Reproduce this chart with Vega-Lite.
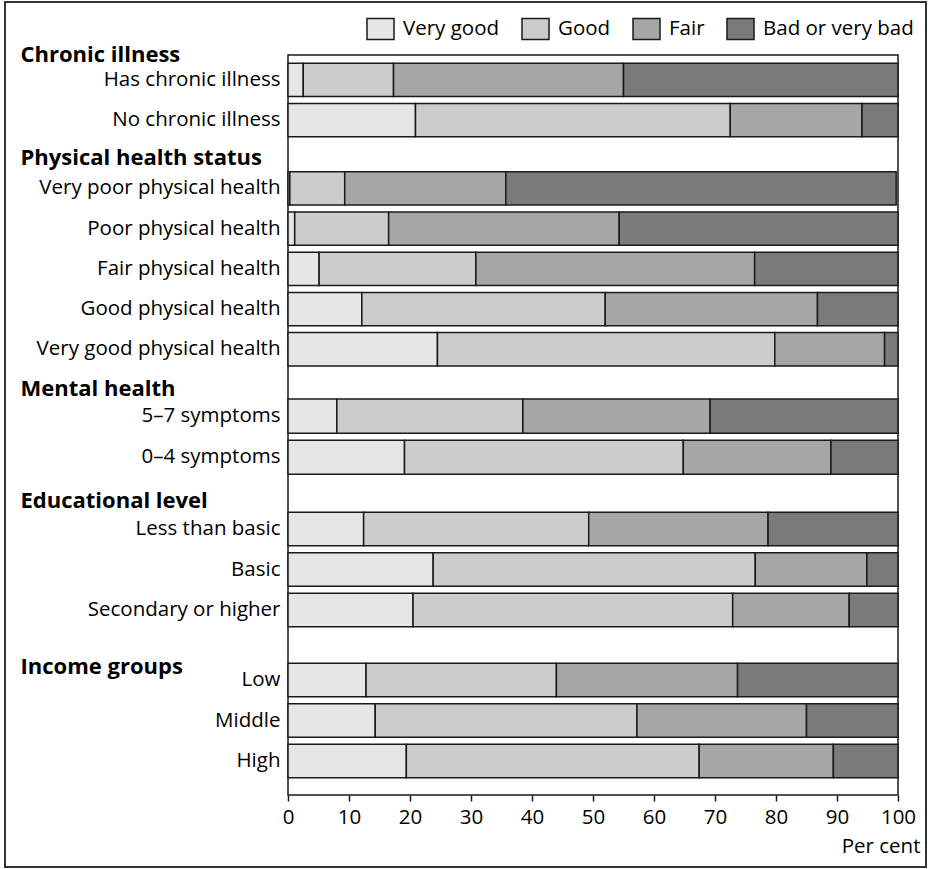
{
  "$schema": "https://vega.github.io/schema/vega-lite/v6.json",
  "width": 921,
  "height": 865,
  "autosize": {"type": "none"},
  "padding": {"left": 5, "top": 2, "right": 2, "bottom": 2},
  "background": "white",
  "config": {
    "font": "Open Sans",
    "view": {"stroke": "#333333", "strokeWidth": 2},
    "axis": {"labelColor": "#000000", "titleColor": "#000000", "grid": false},
    "legend": {
      "orient": "top-right",
      "offset": 12,
      "direction": "horizontal",
      "padding": 0,
      "columnPadding": 19,
      "labelOffset": 8,
      "labelFontSize": 20.5,
      "labelColor": "#000000",
      "symbolType": "M-1,-0.78H1V0.78H-1Z",
      "symbolSize": 729,
      "symbolStrokeColor": "#1a1a1a",
      "symbolStrokeWidth": 1.5,
      "symbolOpacity": 1
    }
  },
  "datasets": {
    "health": [
      {"group": "Chronic illness", "label": "Has chronic illness", "Very good": 2.5, "Good": 14.8, "Fair": 37.7, "Bad or very bad": 45.0},
      {"group": "Chronic illness", "label": "No chronic illness", "Very good": 20.9, "Good": 51.6, "Fair": 21.6, "Bad or very bad": 5.9},
      {"group": "Physical health status", "label": "Very poor physical health", "Very good": 0.3, "Good": 9.0, "Fair": 26.4, "Bad or very bad": 64.0},
      {"group": "Physical health status", "label": "Poor physical health", "Very good": 1.1, "Good": 15.4, "Fair": 37.8, "Bad or very bad": 45.7},
      {"group": "Physical health status", "label": "Fair physical health", "Very good": 5.1, "Good": 25.7, "Fair": 45.7, "Bad or very bad": 23.5},
      {"group": "Physical health status", "label": "Good physical health", "Very good": 12.1, "Good": 39.9, "Fair": 34.8, "Bad or very bad": 13.2},
      {"group": "Physical health status", "label": "Very good physical health", "Very good": 24.5, "Good": 55.3, "Fair": 18.0, "Bad or very bad": 2.2},
      {"group": "Mental health", "label": "5–7 symptoms", "Very good": 8.0, "Good": 30.5, "Fair": 30.7, "Bad or very bad": 30.8},
      {"group": "Mental health", "label": "0–4 symptoms", "Very good": 19.1, "Good": 45.7, "Fair": 24.2, "Bad or very bad": 11.0},
      {"group": "Educational level", "label": "Less than basic", "Very good": 12.4, "Good": 36.9, "Fair": 29.4, "Bad or very bad": 21.3},
      {"group": "Educational level", "label": "Basic", "Very good": 23.8, "Good": 52.8, "Fair": 18.3, "Bad or very bad": 5.1},
      {"group": "Educational level", "label": "Secondary or higher", "Very good": 20.5, "Good": 52.4, "Fair": 19.1, "Bad or very bad": 8.0},
      {"group": "Income groups", "label": "Low", "Very good": 12.8, "Good": 31.2, "Fair": 29.7, "Bad or very bad": 26.3},
      {"group": "Income groups", "label": "Middle", "Very good": 14.3, "Good": 42.9, "Fair": 27.8, "Bad or very bad": 15.0},
      {"group": "Income groups", "label": "High", "Very good": 19.4, "Good": 48.0, "Fair": 22.0, "Bad or very bad": 10.6}
    ]
  },
  "data": {"name": "health"},
  "transform": [
    {"fold": ["Very good", "Good", "Fair", "Bad or very bad"], "as": ["rating", "share"]}
  ],
  "layer": [
    {
      "data": {"values": [{"frame": "plot"}]},
      "transform": [],
      "mark": {"type": "rect", "fillOpacity": 0, "stroke": "#1a1a1a", "strokeWidth": 1.5},
      "encoding": {
        "x": {
          "datum": 0, "type": "quantitative",
          "scale": {"domain": [0, 100], "range": [283, 893], "nice": false, "zero": false},
          "axis": {
            "orient": "bottom", "offset": -72,
            "values": [0, 10, 20, 30, 40, 50, 60, 70, 80, 90, 100],
            "domain": false, "ticks": true, "tickSize": 6, "tickColor": "#1a1a1a", "tickWidth": 1.5,
            "labelFontSize": 20.5, "labelPadding": 6, "labelAlign": "center", "labelFlush": false, "labelOverlap": false,
            "title": "Per cent", "titleFontSize": 20.5, "titleFontWeight": "normal",
            "titleAlign": "right", "titleBaseline": "alphabetic", "titleX": 915, "titleY": 57
          }
        },
        "x2": {"datum": 100},
        "y": {"datum": 0, "type": "quantitative", "scale": {"domain": [0, 1], "range": [793, 53]}, "axis": null},
        "y2": {"datum": 1}
      }
    },
    {
      "transform": [{"filter": "datum.group === 'Chronic illness'"}],
      "mark": {"type": "bar", "stroke": "#1a1a1a", "strokeWidth": 1.5},
      "encoding": {
        "y": {
          "field": "label", "type": "nominal", "sort": null,
          "scale": {"domain": ["Has chronic illness", "No chronic illness"], "range": [61.3, 134.7], "paddingInner": 0.17, "paddingOuter": 0},
          "axis": {"orient": "left", "offset": -283, "domain": false, "ticks": false, "labelPadding": 8, "labelFontSize": 20.5, "labelLimit": 300,
                   "title": "Chronic illness", "titleAngle": 0, "titleAlign": "left", "titleBaseline": "alphabetic", "titleX": -268, "titleY": 59, "titleFontSize": 22, "titleFontWeight": "bold"}
        },
        "x": {"field": "share", "type": "quantitative", "stack": "zero"},
        "order": {"field": "rating", "sort": "descending"},
        "color": {"field": "rating", "type": "nominal", "sort": ["Very good", "Good", "Fair", "Bad or very bad"],
                  "scale": {"domain": ["Very good", "Good", "Fair", "Bad or very bad"], "range": ["#e6e6e6", "#cccccc", "#a6a6a6", "#7a7a7a"]}, "title": null}
      }
    },
    {
      "transform": [{"filter": "datum.group === 'Physical health status'"}],
      "mark": {"type": "bar", "stroke": "#1a1a1a", "strokeWidth": 1.5},
      "encoding": {
        "y": {
          "field": "label", "type": "nominal", "sort": null,
          "scale": {"domain": ["Very poor physical health", "Poor physical health", "Fair physical health", "Good physical health", "Very good physical health"], "range": [169.7, 364], "paddingInner": 0.17, "paddingOuter": 0},
          "axis": {"orient": "left", "offset": -283, "domain": false, "ticks": false, "labelPadding": 8, "labelFontSize": 20.5, "labelLimit": 300,
                   "title": "Physical health status", "titleAngle": 0, "titleAlign": "left", "titleBaseline": "alphabetic", "titleX": -268, "titleY": 162, "titleFontSize": 22, "titleFontWeight": "bold"}
        },
        "x": {"field": "share", "type": "quantitative", "stack": "zero"},
        "order": {"field": "rating", "sort": "descending"},
        "color": {"field": "rating", "type": "nominal", "sort": ["Very good", "Good", "Fair", "Bad or very bad"], "title": null}
      }
    },
    {
      "transform": [{"filter": "datum.group === 'Mental health'"}],
      "mark": {"type": "bar", "stroke": "#1a1a1a", "strokeWidth": 1.5},
      "encoding": {
        "y": {
          "field": "label", "type": "nominal", "sort": null,
          "scale": {"domain": ["5–7 symptoms", "0–4 symptoms"], "range": [397, 472.3], "paddingInner": 0.17, "paddingOuter": 0},
          "axis": {"orient": "left", "offset": -283, "domain": false, "ticks": false, "labelPadding": 8, "labelFontSize": 20.5, "labelLimit": 300,
                   "title": "Mental health", "titleAngle": 0, "titleAlign": "left", "titleBaseline": "alphabetic", "titleX": -268, "titleY": 393.7, "titleFontSize": 22, "titleFontWeight": "bold"}
        },
        "x": {"field": "share", "type": "quantitative", "stack": "zero"},
        "order": {"field": "rating", "sort": "descending"},
        "color": {"field": "rating", "type": "nominal", "sort": ["Very good", "Good", "Fair", "Bad or very bad"], "title": null}
      }
    },
    {
      "transform": [{"filter": "datum.group === 'Educational level'"}],
      "mark": {"type": "bar", "stroke": "#1a1a1a", "strokeWidth": 1.5},
      "encoding": {
        "y": {
          "field": "label", "type": "nominal", "sort": null,
          "scale": {"domain": ["Less than basic", "Basic", "Secondary or higher"], "range": [510.3, 624.7], "paddingInner": 0.17, "paddingOuter": 0},
          "axis": {"orient": "left", "offset": -283, "domain": false, "ticks": false, "labelPadding": 8, "labelFontSize": 20.5, "labelLimit": 300,
                   "title": "Educational level", "titleAngle": 0, "titleAlign": "left", "titleBaseline": "alphabetic", "titleX": -268, "titleY": 505.3, "titleFontSize": 22, "titleFontWeight": "bold"}
        },
        "x": {"field": "share", "type": "quantitative", "stack": "zero"},
        "order": {"field": "rating", "sort": "descending"},
        "color": {"field": "rating", "type": "nominal", "sort": ["Very good", "Good", "Fair", "Bad or very bad"], "title": null}
      }
    },
    {
      "transform": [{"filter": "datum.group === 'Income groups'"}],
      "mark": {"type": "bar", "stroke": "#1a1a1a", "strokeWidth": 1.5},
      "encoding": {
        "y": {
          "field": "label", "type": "nominal", "sort": null,
          "scale": {"domain": ["Low", "Middle", "High"], "range": [661.3, 775.7], "paddingInner": 0.17, "paddingOuter": 0},
          "axis": {"orient": "left", "offset": -283, "domain": false, "ticks": false, "labelPadding": 8, "labelFontSize": 20.5, "labelLimit": 300,
                   "title": "Income groups", "titleAngle": 0, "titleAlign": "left", "titleBaseline": "alphabetic", "titleX": -268, "titleY": 671.3, "titleFontSize": 22, "titleFontWeight": "bold"}
        },
        "x": {"field": "share", "type": "quantitative", "stack": "zero"},
        "order": {"field": "rating", "sort": "descending"},
        "color": {"field": "rating", "type": "nominal", "sort": ["Very good", "Good", "Fair", "Bad or very bad"], "title": null}
      }
    }
  ],
  "resolve": {"scale": {"y": "independent"}, "axis": {"y": "independent"}}
}
